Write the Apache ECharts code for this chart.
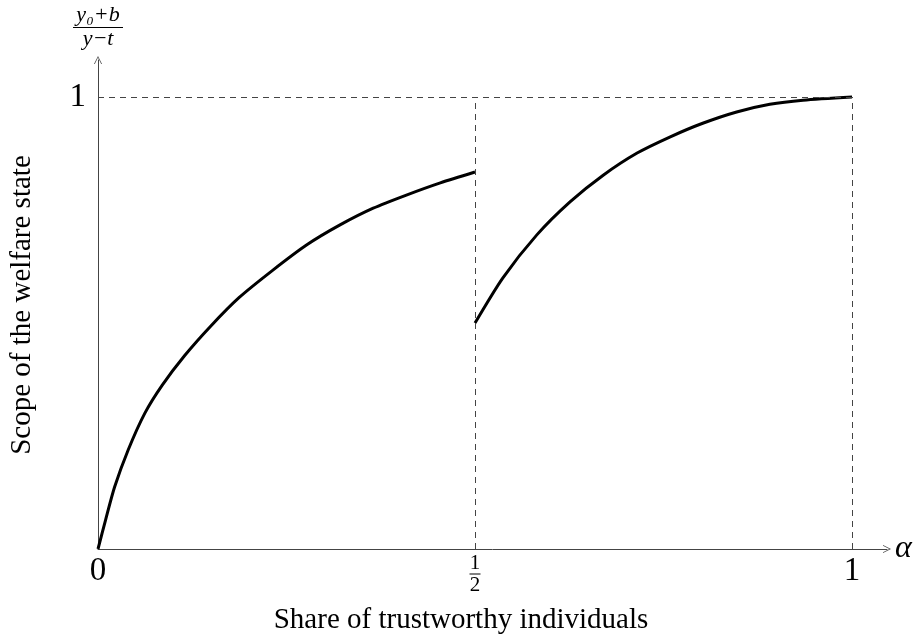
<!DOCTYPE html>
<html>
<head>
<meta charset="utf-8">
<script src="https://cdn.jsdelivr.net/npm/echarts@6/dist/echarts.min.js"></script>
<style>
  html, body { margin: 0; padding: 0; background: #fff; }
  #js-echarts { width: 922px; height: 642px; }
</style>
</head>
<body>
<div id="js-echarts"></div>
<script>
// values
const lowAlpha = [0, 0.01, 0.022, 0.04, 0.062, 0.085, 0.115, 0.15, 0.187, 0.232, 0.277, 0.321, 0.365, 0.409, 0.454, 0.5];
const lowScope = [0, 0.064, 0.137, 0.219, 0.30, 0.362, 0.428, 0.494, 0.556, 0.617, 0.673, 0.717, 0.754, 0.783, 0.810, 0.834];
const highAlpha = [0.5, 0.537, 0.582, 0.626, 0.67, 0.715, 0.759, 0.802, 0.847, 0.891, 0.935, 1.0];
const highScope = [0.5, 0.60, 0.695, 0.768, 0.827, 0.876, 0.912, 0.942, 0.967, 0.984, 0.993, 1.0];
const xTicks = [0, 0.5, 1];
const yTicks = [1];
const guideX = [0.5, 1];
const guideY = 1;

const chartDom = document.getElementById('js-echarts');
if(chartDom){
  const chart = echarts.init(chartDom, null, { renderer: 'canvas' });
  const theme = {
    ink: '#000000',
    axis: '#444444',
    font: '"Liberation Serif", "DejaVu Serif", serif'
  };
  const arrow = 'path://M0,10 L5,0 L10,10 L9,10 L5,2 L1,10 Z';

  const toPairs = (xs, ys) => xs.map((x, i) => [x, ys[i]]);

  const guides = guideX.map(x => [{ coord: [x, 0] }, { coord: [x, guideY] }]);
  guides.push([{ coord: [0, guideY] }, { coord: [guideX[guideX.length - 1], guideY] }]);

  const option = {
    animation: false,
    grid: {
      left: 98,
      right: 35,
      top: 60,
      bottom: 93,
      containLabel: false,
      outerBoundsMode: 'none'
    },
    xAxis: {
      type: 'value',
      min: 0,
      max: 1.0464,
      name: 'α',
      nameLocation: 'end',
      nameGap: 8,
      nameTextStyle: {
        fontFamily: theme.font,
        fontStyle: 'italic',
        fontSize: 32,
        color: theme.ink,
        verticalAlign: 'middle'
      },
      axisLine: {
        onZero: false,
        symbol: ['none', arrow],
        symbolSize: [9, 8],
        lineStyle: { color: theme.axis, width: 1 }
      },
      axisTick: { show: false },
      splitLine: { show: false },
      axisLabel: {
        customValues: xTicks,
        margin: 6,
        color: theme.ink,
        fontFamily: theme.font,
        fontSize: 33,
        formatter: v => v === 0.5 ? '{n|1}\n{bar|}\n{d|2}' : String(v),
        rich: {
          n: { fontFamily: theme.font, fontSize: 21, lineHeight: 17, color: theme.ink, align: 'center' },
          bar: { width: 11, height: 1, lineHeight: 4, backgroundColor: theme.ink, align: 'center' },
          d: { fontFamily: theme.font, fontSize: 21, lineHeight: 18, color: theme.ink, align: 'center' }
        }
      }
    },
    yAxis: {
      type: 'value',
      min: 0,
      max: 1.0819,
      name: '{n|y₀+b}\n{bar|}\n{d|y−t}',
      nameLocation: 'end',
      nameGap: 12,
      nameTextStyle: {
        rich: {
          n: { fontFamily: theme.font, fontStyle: 'italic', fontSize: 22, lineHeight: 20, color: theme.ink, align: 'center' },
          bar: { width: 50, height: 1, lineHeight: 5, backgroundColor: theme.ink, align: 'center' },
          d: { fontFamily: theme.font, fontStyle: 'italic', fontSize: 22, lineHeight: 18, color: theme.ink, align: 'center' }
        }
      },
      axisLine: {
        show: true,
        onZero: false,
        symbol: ['none', arrow],
        symbolSize: [9, 8],
        lineStyle: { color: theme.axis, width: 1 }
      },
      axisTick: { show: false },
      splitLine: { show: false },
      axisLabel: {
        customValues: yTicks,
        margin: 12,
        color: theme.ink,
        fontFamily: theme.font,
        fontSize: 33
      }
    },
    graphic: [
      {
        type: 'text',
        x: 461,
        y: 620,
        style: {
          text: 'Share of trustworthy individuals',
          font: '29px ' + theme.font,
          fill: theme.ink,
          align: 'center',
          verticalAlign: 'middle'
        }
      },
      {
        type: 'text',
        x: 22,
        y: 305,
        rotation: Math.PI / 2,
        style: {
          text: 'Scope of the welfare state',
          font: '29px ' + theme.font,
          fill: theme.ink,
          align: 'center',
          verticalAlign: 'middle'
        }
      }
    ],
    series: [
      {
        type: 'line',
        data: toPairs(lowAlpha, lowScope),
        smooth: 0.25,
        showSymbol: false,
        lineStyle: { color: theme.ink, width: 3 },
        markLine: {
          silent: true,
          symbol: ['none', 'none'],
          label: { show: false },
          lineStyle: { color: theme.axis, width: 1, type: [6, 5] },
          data: guides
        },
        z: 3
      },
      {
        type: 'line',
        data: toPairs(highAlpha, highScope),
        smooth: 0.25,
        showSymbol: false,
        lineStyle: { color: theme.ink, width: 3 },
        z: 3
      }
    ]
  };

  chart.setOption(option);
}
</script>
</body>
</html>
